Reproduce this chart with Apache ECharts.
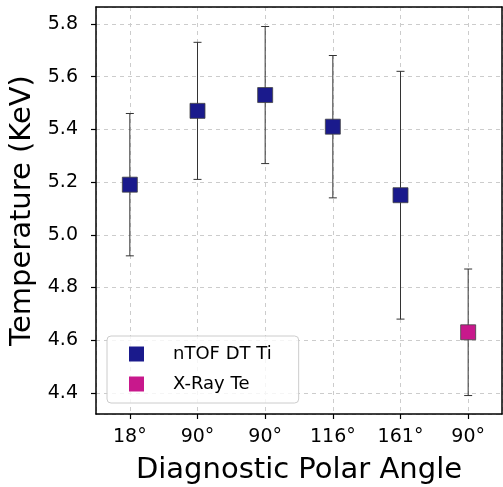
<!DOCTYPE html>
<html>
<head>
<meta charset="utf-8">
<script src="https://cdn.jsdelivr.net/npm/echarts@6/dist/echarts.min.js"></script>
<style>
  html, body { margin: 0; padding: 0; background: #fff; }
  #main { width: 503px; height: 487px; }
</style>
</head>
<body>
<div id="main"></div>
<script>
// 数据
var categories = ['18°', '90°', '90°', '116°', '161°', '90°'];
var ntofX = [0, 1, 2, 3, 4];
var ntofTi = [5.19, 5.47, 5.53, 5.41, 5.15];
var ntofErr = [0.27, 0.26, 0.26, 0.27, 0.47];
var xrayX = [5];
var xrayTe = [4.63];
var xrayErr = [0.24];

var myChart = echarts.init(document.getElementById('main'));

function points(xs, ys, errs) {
    return xs.map(function (x, i) { return [x, ys[i], ys[i] - errs[i], ys[i] + errs[i]]; });
}

// 误差棒
function errorBar(params, api) {
    var x = api.value(0);
    var lo = api.coord([x, api.value(2)]);
    var hi = api.coord([x, api.value(3)]);
    var cap = 4;
    var style = { stroke: '#333', lineWidth: 1 };
    return {
        type: 'group',
        children: [
            { type: 'line', shape: { x1: lo[0], y1: lo[1], x2: hi[0], y2: hi[1] }, style: style },
            { type: 'line', shape: { x1: lo[0] - cap, y1: lo[1], x2: lo[0] + cap, y2: lo[1] }, style: style },
            { type: 'line', shape: { x1: hi[0] - cap, y1: hi[1], x2: hi[0] + cap, y2: hi[1] }, style: style }
        ]
    };
}

var ntofData = points(ntofX, ntofTi, ntofErr);
var xrayData = points(xrayX, xrayTe, xrayErr);

var font = 'DejaVu Sans';
var gridLine = { show: true, lineStyle: { color: '#ccc', type: [4, 4], width: 1 } };
var frameAxis = {
    axisLine: { show: true, onZero: false, lineStyle: { color: '#000', width: 1.5 } },
    axisTick: { show: false }, axisLabel: { show: false }, splitLine: { show: false }
};

option = {
    animation: false,
    textStyle: { fontFamily: font },
    grid: { left: 96, right: 1, top: 7, bottom: 73, outerBoundsMode: 'none', containLabel: false },
    legend: {
        orient: 'vertical',
        left: 107, top: 336,
        padding: [9, 27, 10, 22],
        itemGap: 12,
        itemWidth: 15, itemHeight: 15,
        borderColor: '#ccc', borderWidth: 1, borderRadius: 4,
        backgroundColor: 'rgba(255,255,255,0.8)',
        textStyle: { fontSize: 18, color: '#000', padding: [0, 0, 0, 24], fontFamily: font },
        data: [
            { name: 'nTOF DT Ti', icon: 'rect' },
            { name: 'X-Ray Te', icon: 'rect' }
        ]
    },
    xAxis: [{
        type: 'value',
        min: -0.5, max: 5.5,
        splitNumber: 6,
        name: 'Diagnostic Polar Angle',
        nameLocation: 'middle',
        nameGap: 42,
        nameTextStyle: { fontSize: 29, color: '#000', fontFamily: font },
        axisLine: { onZero: false, lineStyle: { color: '#000', width: 1.5 } },
        axisTick: { show: true, length: 5, lineStyle: { color: '#000', width: 1.2 } },
        axisLabel: {
            fontSize: 19, color: '#000', margin: 14, fontFamily: font,
            showMinLabel: false, showMaxLabel: false,
            formatter: function (v) { return Number.isInteger(v) ? categories[v] : ''; }
        },
        splitLine: gridLine
    }, Object.assign({ type: 'value', position: 'top', min: -0.5, max: 5.5 }, frameAxis)],
    yAxis: [{
        type: 'value',
        min: 4.32, max: 5.864,
        splitNumber: 7,
        name: 'Temperature (KeV)',
        nameLocation: 'middle',
        nameGap: 55,
        nameTextStyle: { fontSize: 29, color: '#000', fontFamily: font },
        axisLine: { show: true, onZero: false, lineStyle: { color: '#000', width: 1.5 } },
        axisTick: { show: true, length: 5, lineStyle: { color: '#000', width: 1.2 } },
        axisLabel: {
            fontSize: 19, color: '#000', margin: 18, fontFamily: font,
            showMinLabel: false, showMaxLabel: false,
            formatter: function (v) { return v.toFixed(1); }
        },
        splitLine: gridLine
    }, Object.assign({ type: 'value', position: 'right', min: 4.32, max: 5.864 }, frameAxis)],
    series: [
        {
            type: 'custom', name: 'nTOF DT Ti', renderItem: errorBar,
            data: ntofData, encode: { x: 0, y: [1, 2, 3] }, z: 2,
            itemStyle: { color: '#1a1a8c' }
        },
        {
            type: 'scatter', name: 'nTOF DT Ti', data: ntofData,
            symbol: 'rect', symbolSize: 15, z: 3,
            itemStyle: { color: '#1a1a8c', opacity: 1, borderColor: '#444', borderWidth: 0.8 }
        },
        {
            type: 'custom', name: 'X-Ray Te', renderItem: errorBar,
            data: xrayData, encode: { x: 0, y: [1, 2, 3] }, z: 2,
            itemStyle: { color: '#c8188c' }
        },
        {
            type: 'scatter', name: 'X-Ray Te', data: xrayData,
            symbol: 'rect', symbolSize: 15, z: 3,
            itemStyle: { color: '#c8188c', opacity: 1, borderColor: '#444', borderWidth: 0.8 }
        }
    ]
};

myChart.setOption(option);
</script>
</body>
</html>
